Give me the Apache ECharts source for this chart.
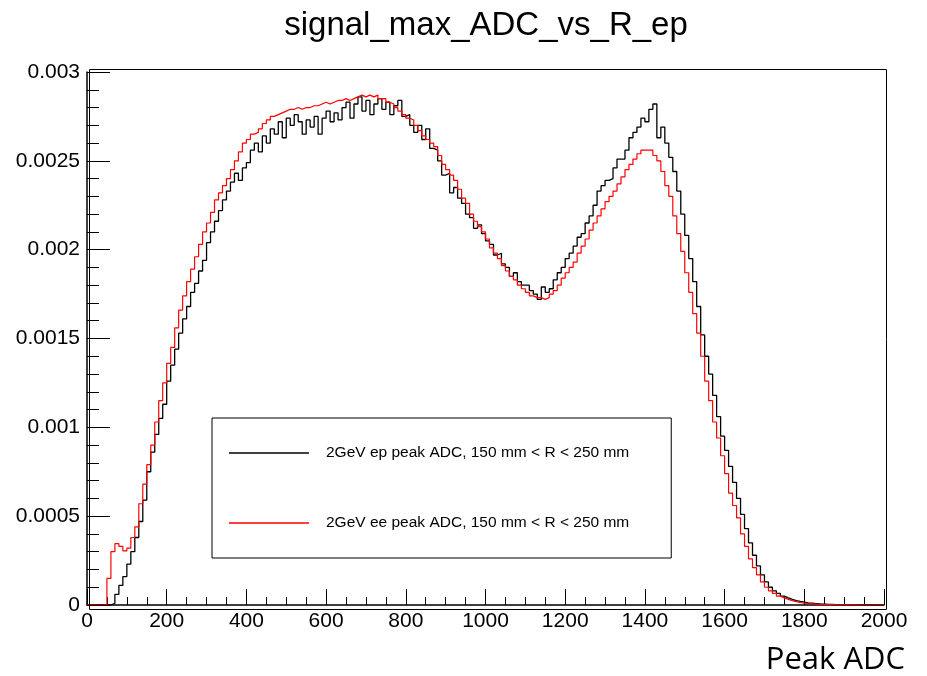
<!DOCTYPE html>
<html><head><meta charset="utf-8">
<script src="https://cdn.jsdelivr.net/npm/echarts@6/dist/echarts.min.js"></script>
<style>html,body{margin:0;padding:0;background:#fff}#c{width:927px;height:676px}</style>
</head><body><div id="c"></div>
<script>
// Histogram: bin width 10 ADC, 200 bins from 0 to 2000. Values in units of 1e-4.
const binWidth = 10;
const xMin = 0, xMax = 2000;
const titleText = 'signal_max_ADC_vs_R_ep';
const xAxisName = 'Peak ADC';
const seriesNames = ['2GeV ep peak ADC, 150 mm < R < 250 mm', '2GeV ee peak ADC, 150 mm < R < 250 mm'];

const epValues = [
  0,0,0,0,0,0,0.1,0.6,1.1,1.6,
  2.3,3.0,3.8,4.7,5.9,7.5,8.6,9.6,10.5,11.3,
  12.6,13.5,14.4,15.3,16.1,16.8,17.6,18.1,18.8,19.4,
  20.4,21.0,21.6,22.2,22.8,23.3,23.8,24.3,23.9,24.6,
  24.9,25.6,26.0,25.5,26.4,26.0,26.8,26.5,27.2,26.3,
  27.4,27.0,27.6,27.2,26.5,27.3,26.9,27.5,26.5,27.4,
  27.8,27.2,27.7,27.3,28.0,28.3,27.4,28.2,28.6,27.8,
  28.4,27.6,28.2,28.5,27.9,28.3,27.6,28.1,28.4,27.5,
  27.6,27.0,26.6,27.0,26.2,26.8,25.7,25.6,25.0,24.2,
  24.3,23.2,23.5,22.9,22.6,22.0,21.8,21.2,21.4,20.9,
  20.5,20.3,19.7,19.8,19.2,19.0,18.5,18.7,18.2,18.0,
  18.0,17.7,17.5,17.2,17.9,17.6,17.8,18.3,18.7,19.0,
  19.5,19.8,20.2,20.7,20.9,21.5,21.9,22.5,23.3,23.6,
  23.9,24.0,24.6,25.1,25.1,25.6,26.3,26.6,26.9,27.4,
  27.2,27.9,28.2,26.3,26.9,26.0,25.2,24.4,23.3,22.0,
  20.8,19.5,18.2,16.8,15.2,14.0,13.0,11.8,10.6,9.5,
  8.7,7.8,6.9,6.0,5.1,4.3,3.5,2.8,2.2,1.7,
  1.3,1.0,0.8,0.65,0.5,0.4,0.32,0.25,0.2,0.16,
  0.12,0.1,0.08,0.06,0.05,0.04,0.03,0.02,0.02,0.01,
  0.01,0.01,0.005,0.005,0,0,0,0,0,0
];

const eeValues = [
  0,0,0,0,0,1.5,3.0,3.45,3.3,3.05,
  3.2,3.8,4.4,5.7,6.8,7.9,9.0,10.3,11.5,12.5,
  13.6,14.5,15.6,16.6,17.4,18.2,18.9,19.6,20.3,21.0,
  21.5,22.1,22.8,23.2,23.6,24.0,24.5,25.0,25.5,26.0,
  26.2,26.5,26.6,26.8,27.1,27.3,27.5,27.6,27.7,27.8,
  27.9,27.9,28.0,27.9,28.0,28.0,28.1,28.1,28.2,28.3,
  28.2,28.3,28.4,28.4,28.5,28.4,28.5,28.6,28.7,28.6,
  28.7,28.6,28.7,28.5,28.5,28.3,28.2,28.0,27.8,27.6,
  27.4,27.3,27.0,26.7,26.4,26.2,26.0,25.8,25.3,24.8,
  24.5,24.2,23.9,23.4,22.9,22.6,22.0,21.6,21.3,21.0,
  20.6,20.1,19.8,19.5,19.1,18.8,18.5,18.3,18.0,17.8,
  17.6,17.4,17.3,17.3,17.2,17.3,17.5,17.7,18.0,18.4,
  18.7,19.0,19.3,19.8,20.2,20.6,21.1,21.5,21.9,22.3,
  22.7,23.0,23.3,23.7,24.1,24.5,24.8,25.1,25.4,25.6,
  25.6,25.6,25.3,25.0,24.4,23.6,23.0,21.9,20.9,19.9,
  18.7,17.6,16.4,15.3,14.0,12.6,11.5,10.3,9.4,8.4,
  7.4,6.3,5.6,4.9,4.0,3.3,2.6,2.1,1.7,1.3,
  1.0,0.8,0.65,0.5,0.4,0.32,0.25,0.19,0.14,0.11,
  0.09,0.07,0.05,0.04,0.03,0.02,0.02,0.01,0.01,0.01,
  0.01,0.005,0.005,0,0,0,0,0,0,0
];

function toSteps(vals) {
  const d = vals.map((v, i) => [xMin + i * binWidth, v * 1e-4]);
  d.push([xMin + vals.length * binWidth, vals[vals.length - 1] * 1e-4]);
  return d;
}

const FONT = '"Liberation Sans", Arial, Helvetica, sans-serif';
const chart = echarts.init(document.getElementById('c'), null, {renderer: 'canvas'});
chart.setOption({
  animation: false,
  backgroundColor: '#fff',
  title: {
    text: titleText, left: 481, top: 4, textAlign: 'center',
    textStyle: {fontFamily: FONT, fontSize: 33, fontWeight: 'normal', color: '#000'}
  },
  grid: {left: 87, right: 43, top: 72, bottom: 69, containLabel: false},
  legend: {
    left: 212, top: 418, orient: 'vertical',
    backgroundColor: '#fff', borderColor: '#000', borderWidth: 1, borderRadius: 0,
    padding: [27, 42, 27, 17], itemGap: 54, itemWidth: 80, itemHeight: 1.5,
    icon: 'rect',
    textStyle: {fontFamily: FONT, fontSize: 15.5, color: '#000', lineHeight: 16, padding: [0, 0, 0, 12]},
    data: [seriesNames[0], seriesNames[1]]
  },
  xAxis: {
    type: 'value', min: xMin, max: xMax, interval: 200,
    name: xAxisName, nameLocation: 'end', nameGap: 21,
    nameTextStyle: {fontFamily: '"Open Sans", sans-serif', fontSize: 31, color: '#000', align: 'right', verticalAlign: 'top', padding: [40, 0, 0, 0]},
    axisLine: {lineStyle: {color: '#000', width: 1.5}},
    axisTick: {inside: true, length: 16, lineStyle: {color: '#000', width: 1}},
    minorTick: {show: true, splitNumber: 4, length: 8, lineStyle: {color: '#000', width: 1}},
    splitLine: {show: false},
    axisLabel: {fontFamily: FONT, fontSize: 21, color: '#000', margin: 6,
      formatter: function (v) { return String(v); }}
  },
  yAxis: {
    type: 'value', min: 0, max: 0.003, interval: 0.0005,
    axisLine: {show: true, lineStyle: {color: '#000', width: 1.5}},
    axisTick: {show: true, inside: true, length: 23, lineStyle: {color: '#000', width: 1}},
    minorTick: {show: true, splitNumber: 5, length: 12, lineStyle: {color: '#000', width: 1}},
    splitLine: {show: false},
    axisLabel: {
      fontFamily: FONT, fontSize: 21, color: '#000', margin: 7,
      formatter: function (v) { return String(parseFloat(v.toFixed(5))); }
    }
  },
  graphic: [{
    type: 'rect', left: 87, top: 67, z: 100, silent: true,
    shape: {width: 797, height: 540},
    style: {fill: 'none', stroke: '#000', lineWidth: 1}
  }],
  series: [
    {name: seriesNames[0], type: 'line', step: 'end', showSymbol: false, symbol: 'none',
     data: toSteps(epValues), lineStyle: {color: '#000', width: 1.3}, itemStyle: {color: '#000'}},
    {name: seriesNames[1], type: 'line', step: 'end', showSymbol: false, symbol: 'none',
     data: toSteps(eeValues), lineStyle: {color: '#ff0000', width: 1.2}, itemStyle: {color: '#ff0000'}}
  ]
});
</script>
</body></html>
